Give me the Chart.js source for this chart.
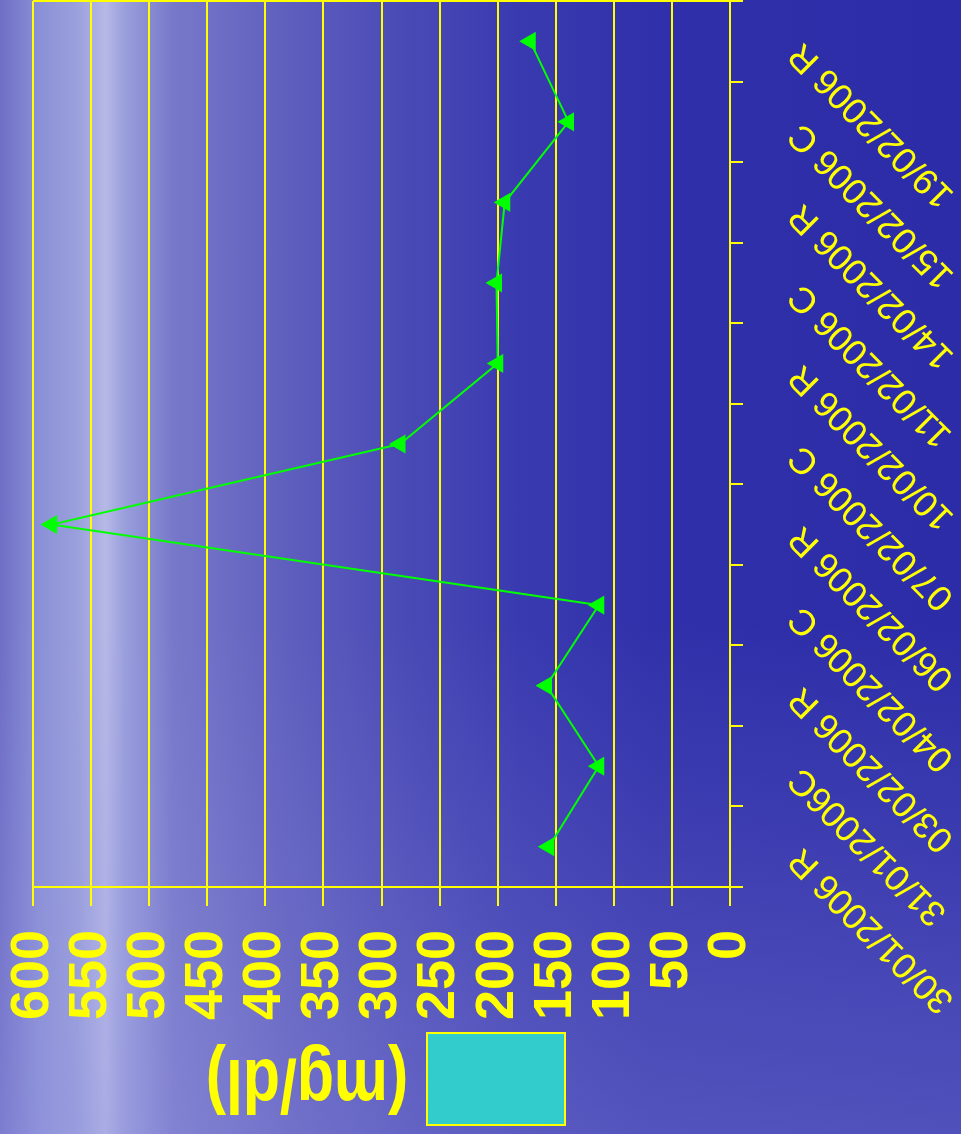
<!DOCTYPE html>
<html>
<head>
<meta charset="utf-8">
<title>Glicemia</title>
<script src="https://cdn.jsdelivr.net/npm/chart.js@4.4.1/dist/chart.umd.min.js"></script>
<style>
  html, body { margin: 0; padding: 0; }
  body {
    width: 961px; height: 1134px; overflow: hidden; position: relative;
    background:
      linear-gradient(to bottom, rgba(150,150,225,0) 0%, rgba(150,150,225,0) 55%, rgba(150,150,225,0.35) 100%),
      linear-gradient(to right, #6e6ec6 0%, #8a90d6 4%, #9aa0dc 8%, #b6b8e6 11%, #9a9edc 13%, #7878ca 18%, #5e5ebe 30%, #4a4ab6 42%, #3a3ab0 54%, #3030aa 68%, #2c2ca8 100%);
  }
  #wrap {
    position: absolute; left: 0; top: 0; width: 1134px; height: 961px;
    transform-origin: 0 0; transform: translate(0, 1134px) rotate(-90deg);
  }
</style>
</head>
<body>
<div id="wrap"><canvas id="c" width="1134" height="961"></canvas></div>
<script>
// Sampling dates (R / C) and glucose readings
const dates = ['30/01/2006 R', '31/01/2006C', '03/02/2006 R', '04/02/2006 C', '06/02/2006 R',
               '07/02/2006 C', '10/02/2006 R', '11/02/2006 C', '14/02/2006 R', '15/02/2006 C', '19/02/2006 R'];
const glucose = [156, 113, 158, 113, 584, 284, 200, 201, 194, 139, 172];
const valueMin = 0;
const valueMax = 600;
const valueStep = 50;
const unitLabel = '(mg/dl)';

const YELLOW = '#ffff00';
const GREEN = '#00ff00';
const SANS = "'Liberation Sans', Arial, sans-serif";

// unit caption and its key box, drawn beside the value axis
const unitKey = {
  id: 'unitKey',
  afterDraw(chart) {
    const ctx = chart.ctx;
    ctx.save();
    ctx.fillStyle = '#33cccc';
    ctx.strokeStyle = YELLOW;
    ctx.lineWidth = 2;
    ctx.fillRect(9, 427, 92, 138);
    ctx.strokeRect(9, 427, 92, 138);
    ctx.translate(53, 307);
    ctx.rotate(-Math.PI / 2);
    ctx.scale(0.8, 1);
    ctx.fillStyle = YELLOW;
    ctx.font = "bold 76px " + SANS;
    ctx.textAlign = 'center';
    ctx.textBaseline = 'middle';
    ctx.fillText(unitLabel, 0, 0);
    ctx.restore();
  }
};

new Chart(document.getElementById('c'), {
  type: 'line',
  data: {
    labels: dates,
    datasets: [{
      label: unitLabel,
      data: glucose,
      borderColor: GREEN,
      backgroundColor: GREEN,
      borderWidth: 2,
      pointStyle: 'triangle',
      pointRadius: 11,
      pointBorderWidth: 0,
      pointBackgroundColor: GREEN,
      tension: 0,
      fill: false
    }]
  },
  options: {
    responsive: false,
    devicePixelRatio: 1,
    animation: false,
    layout: { autoPadding: false, padding: { top: 33, right: 1, bottom: 0, left: 0 } },
    plugins: { legend: { display: false }, tooltip: { enabled: false } },
    scales: {
      x: {
        type: 'category',
        offset: true,
        grid: {
          offset: true,
          display: true,
          drawOnChartArea: true,
          color: c => (c.type === 'scale' || c.index === 0) ? YELLOW : 'rgba(0,0,0,0)',
          tickColor: YELLOW,
          lineWidth: 2,
          tickWidth: 2,
          tickLength: 13
        },
        border: { display: true, color: YELLOW, width: 2 },
        ticks: {
          color: YELLOW,
          autoSkip: false,
          minRotation: 45,
          maxRotation: 45,
          padding: 37,
          labelOffset: -7,
          font: { family: SANS, size: 36, weight: 'normal' }
        },
        afterFit: s => { s.height = 231; s.paddingLeft = 0; s.paddingRight = 0; }
      },
      y: {
        min: valueMin,
        max: valueMax,
        grid: {
          color: YELLOW,
          lineWidth: 2,
          tickLength: 19,
          tickColor: YELLOW
        },
        border: { display: true, color: YELLOW, width: 2 },
        ticks: {
          stepSize: valueStep,
          autoSkip: false,
          color: YELLOW,
          padding: 24,
          font: { family: SANS, size: 54, weight: 'bold', lineHeight: 1 }
        },
        afterFit: s => { s.width = 247; s.paddingTop = 0; s.paddingBottom = 0; }
      }
    }
  },
  plugins: [unitKey]
});
</script>
</body>
</html>
